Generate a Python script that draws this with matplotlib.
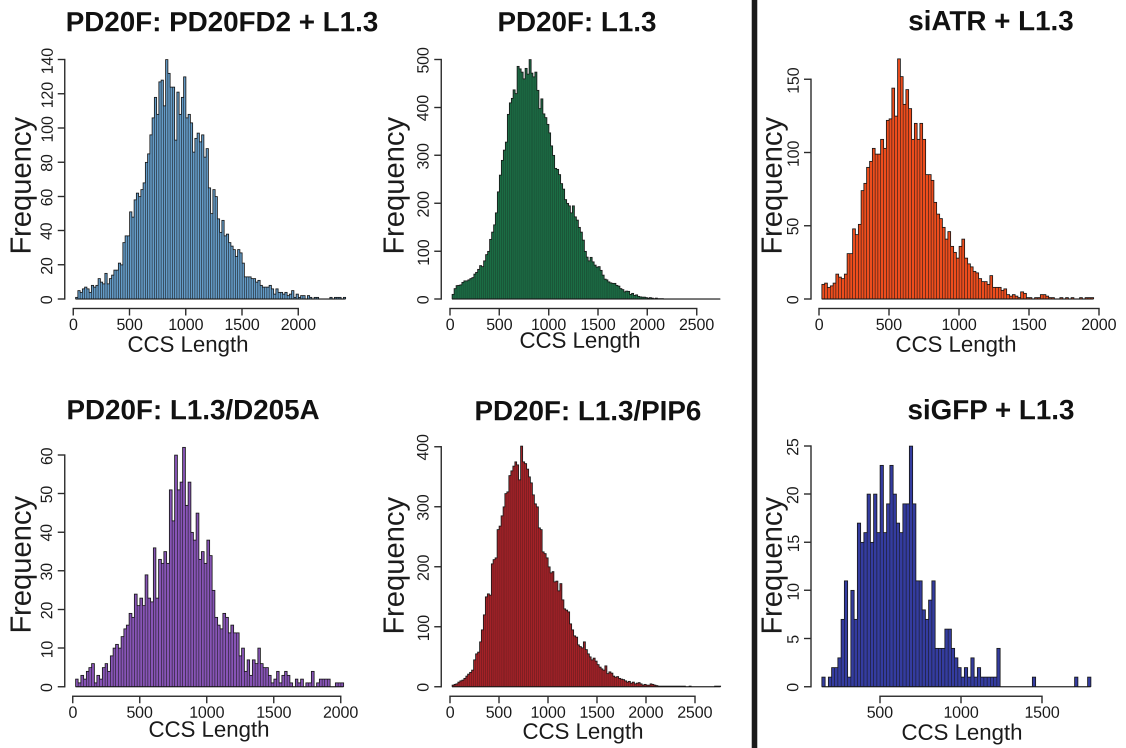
import io
import matplotlib
matplotlib.use("Agg")
import matplotlib.pyplot as plt
from matplotlib.lines import Line2D
import numpy as np
from PIL import Image

plt.rcParams['font.family'] = ['Liberation Sans', 'DejaVu Sans']

BIN_WIDTH = 20

# PD20F: PD20FD2 + L1.3  (bins of 20 starting at 20)
pd20fd2_start = 20
pd20fd2_counts = [1, 5, 4, 6, 7, 6, 4, 8, 7, 8,
                  12, 10, 9, 15, 9, 12, 14, 17, 17, 21,
                  20, 33, 37, 37, 51, 48, 58, 62, 60, 64,
                  68, 80, 85, 96, 106, 118, 108, 127, 128, 113,
                  140, 132, 124, 124, 93, 121, 108, 118, 130, 106,
                  108, 103, 86, 94, 97, 92, 96, 83, 88, 65,
                  50, 64, 60, 47, 39, 46, 37, 38, 33, 31,
                  29, 25, 29, 27, 21, 13, 13, 13, 12, 12,
                  10, 11, 8, 7, 7, 7, 8, 6, 3, 6,
                  4, 4, 3, 4, 2, 3, 5, 1, 3, 1,
                  2, 2, 0, 2, 1, 0, 1, 1, 0, 0,
                  0, 0, 0, 1, 0, 1, 1, 1, 0, 1]

# PD20F: L1.3
l13_start = 20
l13_counts = [10, 22, 28, 29, 30, 35, 38, 38, 40, 43,
              45, 52, 56, 62, 70, 68, 80, 93, 100, 125,
              140, 155, 180, 224, 259, 290, 311, 328, 386, 410,
              419, 437, 429, 486, 481, 474, 460, 482, 470, 500,
              472, 464, 474, 436, 398, 418, 387, 379, 365, 347,
              320, 300, 273, 271, 260, 241, 230, 208, 200, 195,
              180, 195, 172, 165, 150, 140, 123, 100, 88, 80,
              87, 78, 71, 67, 68, 60, 50, 42, 40, 36,
              34, 33, 33, 29, 27, 22, 20, 15, 17, 16,
              10, 12, 8, 9, 6, 5, 4, 4, 3, 2,
              3, 2, 1, 2, 1, 1, 1, 0, 0, 0,
              0, 0, 0, 0, 0, 0, 0, 0, 0, 0,
              0, 0, 0, 0, 0, 0, 0, 0, 0, 0,
              0, 0, 0, 0, 0, 0]

# siATR + L1.3
siatr_start = 20
siatr_counts = [10, 11, 8, 9, 11, 17, 15, 14, 17, 31,
                31, 48, 44, 51, 74, 79, 90, 94, 103, 99,
                99, 109, 103, 122, 123, 144, 125, 164, 152, 133,
                143, 130, 109, 120, 109, 120, 109, 85, 85, 81,
                66, 58, 55, 49, 41, 46, 36, 32, 28, 36,
                41, 28, 24, 22, 19, 18, 14, 12, 12, 10,
                16, 8, 8, 8, 6, 7, 3, 2, 3, 2,
                1, 5, 4, 1, 1, 0, 1, 1, 3, 3,
                2, 1, 1, 0, 0, 1, 0, 1, 0, 1,
                0, 0, 1, 0, 1, 1, 1]

# PD20F: L1.3/D205A
d205a_start = 20
d205a_counts = [2, 1, 3, 2, 4, 5, 6, 1, 3, 2,
                5, 6, 4, 8, 10, 11, 10, 13, 15, 16,
                19, 18, 24, 21, 23, 21, 29, 23, 22, 36,
                23, 33, 32, 35, 32, 51, 43, 60, 51, 53,
                62, 47, 53, 40, 38, 45, 33, 35, 32, 38,
                34, 25, 18, 16, 15, 19, 18, 14, 16, 14,
                14, 8, 10, 4, 7, 3, 7, 6, 10, 6,
                5, 5, 3, 1, 2, 4, 1, 3, 4, 3,
                1, 0, 2, 1, 2, 0, 1, 1, 4, 0,
                1, 2, 2, 2, 2, 0, 0, 1, 1, 1]

# PD20F: L1.3/PIP6
pip6_start = 20
pip6_counts = [3, 4, 5, 8, 10, 11, 14, 18, 21, 24,
               28, 45, 55, 58, 75, 95, 120, 150, 155, 153,
               205, 212, 215, 262, 268, 285, 300, 322, 325, 352,
               360, 368, 375, 370, 345, 401, 375, 372, 363, 350,
               340, 320, 305, 300, 265, 262, 225, 222, 215, 200,
               190, 192, 175, 176, 160, 172, 145, 130, 128, 125,
               105, 95, 85, 83, 70, 67, 65, 75, 62, 55,
               50, 45, 48, 43, 37, 33, 30, 28, 35, 22,
               25, 23, 18, 16, 17, 14, 13, 12, 10, 8,
               9, 6, 8, 5, 6, 7, 5, 3, 4, 3,
               3, 5, 4, 3, 2, 1, 1, 1, 1, 1,
               1, 1, 1, 1, 1, 1, 1, 1, 1, 0,
               0, 1, 0, 0, 0, 0, 0, 0, 0, 0,
               0, 0, 0, 0, 1, 1, 1]

# siGFP + L1.3
sigfp_start = 140
sigfp_counts = [1, 0, 1, 2, 2, 3, 7, 11, 1, 10,
                7, 17, 15, 16, 20, 15, 20, 16, 23, 16,
                19, 23, 20, 17, 16, 19, 19, 25, 19, 11,
                11, 8, 7, 9, 11, 4, 4, 4, 6, 6,
                4, 3, 2, 1, 2, 1, 3, 1, 2, 1,
                1, 1, 1, 1, 4, 0, 0, 0, 0, 0,
                0, 0, 0, 0, 0, 1, 0, 0, 0, 0,
                0, 0, 0, 0, 0, 0, 0, 0, 1, 0,
                0, 0, 1]

titles = ["PD20F: PD20FD2 + L1.3", "PD20F: L1.3", "siATR + L1.3",
          "PD20F: L1.3/D205A", "PD20F: L1.3/PIP6", "siGFP + L1.3"]

W, H = 1126, 748
fig = plt.figure(figsize=(W / 100, H / 100), dpi=100)
fig.patch.set_facecolor("white")


def px_rect(left, top, right, bottom):
    return [left / W, 1 - bottom / H, (right - left) / W, (bottom - top) / H]


def fig_xy(x, y):
    return x / W, 1 - y / H


panels = [
    dict(start=pd20fd2_start, counts=pd20fd2_counts, color="#649cc8",
         sep_alpha=0.9,
         rect=px_rect(64.8, 50.0, 356.4, 308.6),
         xticks=np.arange(0, 2001, 500), yticks=np.arange(0, 141, 20),
         title_xy=(222, 24), ylab_xy=(21, 183), xlab_xy=(188, 346)),
    dict(start=l13_start, counts=l13_counts, color="#1b6c44",
         sep_alpha=0.4,
         rect=px_rect(441.2, 50.0, 731.1, 308.6),
         xticks=np.arange(0, 2501, 500), yticks=np.arange(0, 501, 100),
         title_xy=(577, 24), ylab_xy=(394, 183), xlab_xy=(580, 342)),
    dict(start=siatr_start, counts=siatr_counts, color="#ee4d1d",
         sep_alpha=0.9,
         rect=px_rect(810.9, 49.2, 1104.3, 308.6),
         xticks=np.arange(0, 2001, 500), yticks=np.arange(0, 151, 50),
         title_xy=(991, 23), ylab_xy=(772, 183), xlab_xy=(956, 346)),
    dict(start=d205a_start, counts=d205a_counts, color="#8754b6",
         sep_alpha=0.9,
         rect=px_rect(64.7, 437.7, 354.1, 696.3),
         xticks=np.arange(0, 2001, 500), yticks=np.arange(0, 61, 10),
         title_xy=(193, 412), ylab_xy=(21, 562), xlab_xy=(209, 731)),
    dict(start=pip6_start, counts=pip6_counts, color="#a32127",
         sep_alpha=0.4,
         rect=px_rect(441.2, 436.5, 731.2, 696.3),
         xticks=np.arange(0, 2501, 500), yticks=np.arange(0, 401, 100),
         title_xy=(588, 413), ylab_xy=(394, 563), xlab_xy=(583, 733)),
    dict(start=sigfp_start, counts=sigfp_counts, color="#343ca0",
         sep_alpha=0.9,
         rect=px_rect(810.9, 436.3, 1101.4, 696.3),
         xticks=np.arange(500, 1501, 500), yticks=np.arange(0, 26, 5),
         title_xy=(991, 412), ylab_xy=(772, 563), xlab_xy=(962, 734)),
]

axis_color = "#2a2a2a"
edge_color = "#161616"

for title, p in zip(titles, panels):
    counts = np.asarray(p["counts"], dtype=float)
    ax = fig.add_axes(p["rect"])
    edges = p["start"] + BIN_WIDTH * np.arange(len(counts) + 1)

    # histogram fill as one stepped polygon, then the bar outlines on top
    ax.stairs(counts, edges, fill=True, color=p["color"], linewidth=0)
    inner_tops = np.maximum(counts[:-1], counts[1:])
    ax.vlines(edges[1:-1], 0, inner_tops, color=edge_color, linewidth=0.45,
              alpha=p["sep_alpha"])
    ax.stairs(counts, edges, baseline=0, color=edge_color, linewidth=0.6)
    ax.hlines(0, edges[0], edges[-1], color=edge_color, linewidth=0.8)

    # R-style ranges: break range and count range, each widened by 4%
    lo, hi = edges[0], edges[-1]
    pad = 0.04 * (hi - lo)
    ax.set_xlim(lo - pad, hi + pad)
    ymax = counts.max()
    ax.set_ylim(-0.04 * ymax, 1.04 * ymax)

    ax.set_facecolor("none")
    for side in ("top", "right"):
        ax.spines[side].set_visible(False)
    for side in ("left", "bottom"):
        ax.spines[side].set_color(axis_color)
        ax.spines[side].set_linewidth(1.0)
    ax.spines["left"].set_bounds(p["yticks"][0], p["yticks"][-1])
    ax.spines["bottom"].set_bounds(p["xticks"][0], p["xticks"][-1])

    ax.set_xticks(p["xticks"])
    ax.set_yticks(p["yticks"])
    ax.tick_params(direction="out", length=5, width=1.0, color=axis_color,
                   labelsize=11.5, labelcolor="#1a1a1a")
    ax.tick_params(axis="x", pad=2)
    ax.tick_params(axis="y", pad=2)
    for lab in ax.get_yticklabels():
        lab.set_rotation(90)
        lab.set_verticalalignment("center")

    fig.text(*fig_xy(*p["title_xy"]), title, ha="center", va="center",
             fontsize=20, fontweight="bold", color="#111111")
    fig.text(*fig_xy(*p["ylab_xy"]), "Frequency", ha="center", va="center",
             rotation=90, fontsize=21, color="#1a1a1a")
    fig.text(*fig_xy(*p["xlab_xy"]), "CCS Length", ha="center", va="center",
             fontsize=16, color="#1a1a1a")

# Divider between the PD20F panels and the siRNA panels
fig.add_artist(Line2D([754.5 / W, 754.5 / W], [0, 1], transform=fig.transFigure,
                      color="#1a1a1a", linewidth=4.0))

# Supersample: render at 4x and average down so the dense bar outlines
# blend evenly instead of beating against the pixel grid.
buf = io.BytesIO()
fig.savefig(buf, dpi=400, facecolor="white", format="png")
buf.seek(0)
img = Image.open(buf).convert("RGB")
img = img.resize((W, H), Image.Resampling.BOX)
img.save("out.png")
